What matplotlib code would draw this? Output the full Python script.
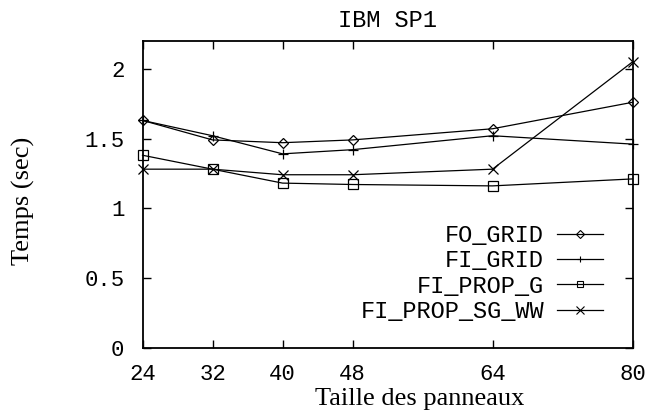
import matplotlib
matplotlib.use("Agg")
import matplotlib.pyplot as plt
from matplotlib.lines import Line2D
from matplotlib.legend_handler import HandlerLine2D
import numpy as np

x = [24, 32, 40, 48, 64, 80]
fo_grid = [1.63, 1.49, 1.47, 1.49, 1.57, 1.76]
fi_grid = [1.63, 1.52, 1.39, 1.42, 1.52, 1.46]
fi_prop_g = [1.38, 1.28, 1.18, 1.17, 1.16, 1.21]
fi_prop_sg_ww = [1.28, 1.28, 1.24, 1.24, 1.28, 2.05]
labels = ["FO_GRID", "FI_GRID", "FI_PROP_G", "FI_PROP_SG_WW"]
xticks = [24, 32, 40, 48, 64, 80]
yticks = [0, 0.5, 1, 1.5, 2]
ytick_labels = ["0", "0.5", "1", "1.5", "2"]

mono = "Liberation Mono"
serif = "Liberation Serif"


class LeftMarkerHandler(HandlerLine2D):
    def get_xdata(self, legend, xdescent, ydescent, width, height, fontsize):
        xdata = np.array([-xdescent, -xdescent + width])
        xdata_marker = np.array([-xdescent + 0.35 * width])
        return xdata, xdata_marker


fig = plt.figure(figsize=(6.46, 4.11), dpi=100)
ax = fig.add_axes([142.5 / 646, 1 - 347.5 / 411, (632.5 - 142.5) / 646, (347.5 - 41) / 411])

styles = [
    dict(marker="D", ms=5.5),
    dict(marker="+", ms=7),
    dict(marker="s", ms=6.5),
    dict(marker="x", ms=7.5),
]
series = [fo_grid, fi_grid, fi_prop_g, fi_prop_sg_ww]
for ys, st in zip(series, styles):
    ax.plot(x, ys, color="black", lw=0.9, marker=st["marker"], ms=st["ms"],
            mfc="none", mec="black", mew=0.9, clip_on=False)

ax.set_xlim(24, 80)
ax.set_ylim(0, 2.2)
ax.set_xticks(xticks)
ax.set_xticklabels([str(v) for v in xticks], fontfamily=mono, fontsize=16)
ax.set_yticks(yticks)
ax.set_yticklabels(ytick_labels, fontfamily=mono, fontsize=16)
ax.tick_params(direction="in", length=6, width=1, top=True, right=True)
ax.tick_params(axis="x", pad=12)
ax.tick_params(axis="y", pad=13)
for s in ax.spines.values():
    s.set_linewidth(1.3)

ax.set_title("IBM SP1", fontfamily=mono, fontsize=17, pad=10)
ax.set_xlabel("Taille des panneaux", fontfamily=serif, fontsize=19)
ax.xaxis.set_label_coords(0.566, -(405 - 347.5) / 306.5)
ax.xaxis.label.set_va("baseline")
ax.set_ylabel("Temps (sec)", fontfamily=serif, fontsize=19)
ax.yaxis.set_label_coords(-0.22, 0.478)

handles = [Line2D([], [], color="black", lw=0.9, marker=st["marker"],
                  ms=st["ms"] * 0.7, mfc="none", mec="black", mew=0.8)
           for st in styles]
leg = ax.legend(handles, labels, loc="upper right",
                bbox_to_anchor=((603 - 142.5) / 490, (347.5 - 224) / 306.5),
                frameon=False, markerfirst=False, prop=dict(family=mono, size=17),
                handlelength=1.95, handletextpad=0.55, labelspacing=0.1,
                borderaxespad=0, borderpad=0,
                handler_map={Line2D: LeftMarkerHandler(numpoints=1)})
leg._legend_box.align = "right"

fig.savefig("out.png", dpi=100)
